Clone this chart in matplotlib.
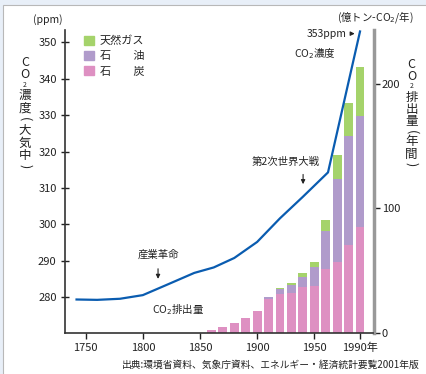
import matplotlib
matplotlib.use('Agg')
import matplotlib.pyplot as plt
from matplotlib.patches import Rectangle, Patch

plt.rcParams['font.family'] = ['Noto Sans CJK JP', 'DejaVu Sans']

# CO2 concentration (ppm)
co2_years = [1742, 1760, 1780, 1800, 1820, 1845, 1862, 1880, 1900, 1920, 1940, 1962, 1990]
co2_ppm = [279.4, 279.3, 279.6, 280.6, 283.3, 286.7, 288.2, 290.8, 295.2, 301.7, 307.6, 314.3, 353.0]

# CO2 emissions (億トン-CO2/年)
bar_years = [1860, 1870, 1880, 1890, 1900, 1910, 1920, 1930, 1940, 1950, 1960, 1970, 1980, 1990]
coal = [2.5, 4.8, 8.0, 11.8, 17.6, 27.3, 31.0, 32.1, 36.9, 37.7, 51.1, 56.7, 70.6, 85.0]
oil = [0, 0, 0, 0, 0, 1.6, 4.0, 6.4, 8.0, 15.2, 30.7, 66.8, 87.6, 89.0]
gas = [0, 0, 0, 0, 0, 0, 1.1, 1.3, 3.0, 3.8, 8.6, 19.2, 26.2, 39.3]

legend_labels = ['天然ガス', '石　　油', '石　　炭']
x_ticks = [1750, 1800, 1850, 1900, 1950, 1990]
x_ticklabels = ['1750', '1800', '1850', '1900', '1950', '1990年']

c_coal = '#de90c2'
c_oil = '#b09bcb'
c_gas = '#a5d36b'
c_line = '#0a5cb0'
txt = '#222222'

W, H = 426, 374
fig = plt.figure(figsize=(W / 100, H / 100), dpi=100)
fig.patch.set_facecolor('#e8eff8')
fig.patches.append(Rectangle((3.3 / W, -0.1), 1.2, 1 - 4.5 / H + 0.1,
                             transform=fig.transFigure, facecolor='white',
                             edgecolor='#b8b8b8', linewidth=0.8, zorder=-5))

ax = fig.add_axes([65 / W, 1 - 333 / H, (373.5 - 65) / W, (333 - 30) / H])
ax2 = ax.twinx()
ax.set_zorder(ax2.get_zorder() + 1)
ax.patch.set_visible(False)

# bars on right axis
bot2 = [c + o for c, o in zip(coal, oil)]
ax2.bar(bar_years, coal, width=7.8, color=c_coal)
ax2.bar(bar_years, oil, width=7.8, bottom=coal, color=c_oil)
ax2.bar(bar_years, gas, width=7.8, bottom=bot2, color=c_gas)
ax2.set_ylim(0, 243)
ax2.set_yticks([0, 100, 200])
ax2.tick_params(axis='y', direction='out', length=4, width=1, pad=2,
                labelsize=8, colors=txt)

# line on left axis
ax.plot(co2_years, co2_ppm, color=c_line, lw=1.6)
ax.set_xlim(1731.9, 2001.8)
ax.set_ylim(270.2, 353.4)
ax.set_yticks(range(280, 351, 10))
ax.set_xticks(x_ticks)
ax.set_xticklabels(x_ticklabels)
ax.tick_params(axis='y', direction='inout', length=6, width=1, pad=3,
               labelsize=8, colors=txt)
ax.tick_params(axis='x', direction='out', length=4, width=1, pad=3,
               labelsize=8, colors=txt)

for a in (ax, ax2):
    a.spines['top'].set_visible(False)
ax.spines['right'].set_visible(False)
ax2.spines['left'].set_visible(False)
ax2.spines['bottom'].set_visible(False)
ax.spines['left'].set_color('#333333')
ax.spines['bottom'].set_color('#333333')
ax.spines['left'].set_linewidth(1.2)
ax.spines['bottom'].set_linewidth(1.2)
ax2.spines['right'].set_color('#999999')
ax2.spines['right'].set_linewidth(2.5)

# legend
handles = [Patch(color=c_gas), Patch(color=c_oil), Patch(color=c_coal)]
ax.legend(handles, legend_labels, loc='upper left', bbox_to_anchor=(76 / W, 1 - 28 / H),
          bbox_transform=fig.transFigure, frameon=False, fontsize=8,
          handlelength=0.95, handleheight=0.95, handletextpad=0.5, labelspacing=0.4,
          borderpad=0.2, labelcolor=txt)

# annotations
arrow = dict(arrowstyle='-|>', color=txt, lw=0.8, mutation_scale=6)
ax.text(1813.3, 290.3, '産業革命', ha='center', va='bottom', fontsize=7.5, color=txt)
ax.annotate('', xy=(1813.3, 284.3), xytext=(1813.3, 288.6), arrowprops=arrow)
ax.text(1925.0, 315.9, '第2次世界大戦', ha='center', va='bottom', fontsize=7.5, color=txt)
ax.annotate('', xy=(1940.2, 310.3), xytext=(1940.2, 314.5), arrowprops=arrow)
ax.text(1978.5, 352.4, '353ppm', ha='right', va='center', fontsize=7.5, color=txt)
ax.annotate('', xy=(1987.8, 352.4), xytext=(1979.8, 352.4), arrowprops=arrow)
ax.text(1932.5, 346.9, 'CO$_2$濃度', ha='left', va='center', fontsize=7.5, color=txt)
ax.text(1831, 276.6, 'CO$_2$排出量', ha='center', va='center', fontsize=7.5, color=txt)

fig.text(47.5 / W, 1 - 20 / H, '(ppm)', ha='center', va='center', fontsize=7.5, color=txt)
fig.text(375 / W, 1 - 17 / H, '(億トン-CO$_2$/年)', ha='center', va='center',
         fontsize=7.5, color=txt)
fig.text(420 / W, 1 - 365 / H, '出典:環境省資料、気象庁資料、エネルギー・経済統計要覧2001年版',
         ha='right', va='center', fontsize=7, color=txt)


def vlabel(x, chars, ys):
    for ch, y in zip(chars, ys):
        fs = 5 if ch == '2' else 9
        rot = -90 if ch in '()' else 0
        fig.text(x / W, 1 - y / H, ch, ha='center', va='center', fontsize=fs,
                 rotation=rot, color=txt)


vlabel(25, ['C', 'O', '2', '濃', '度', '(', '大', '気', '中', ')'],
       [63, 75, 85, 95, 108, 119, 130, 143, 155, 166])
vlabel(411.5, ['C', 'O', '2', '排', '出', '量', '(', '年', '間', ')'],
       [64, 76, 86, 97, 110, 122, 132, 142, 154, 164])

fig.savefig('out.png', dpi=100)
